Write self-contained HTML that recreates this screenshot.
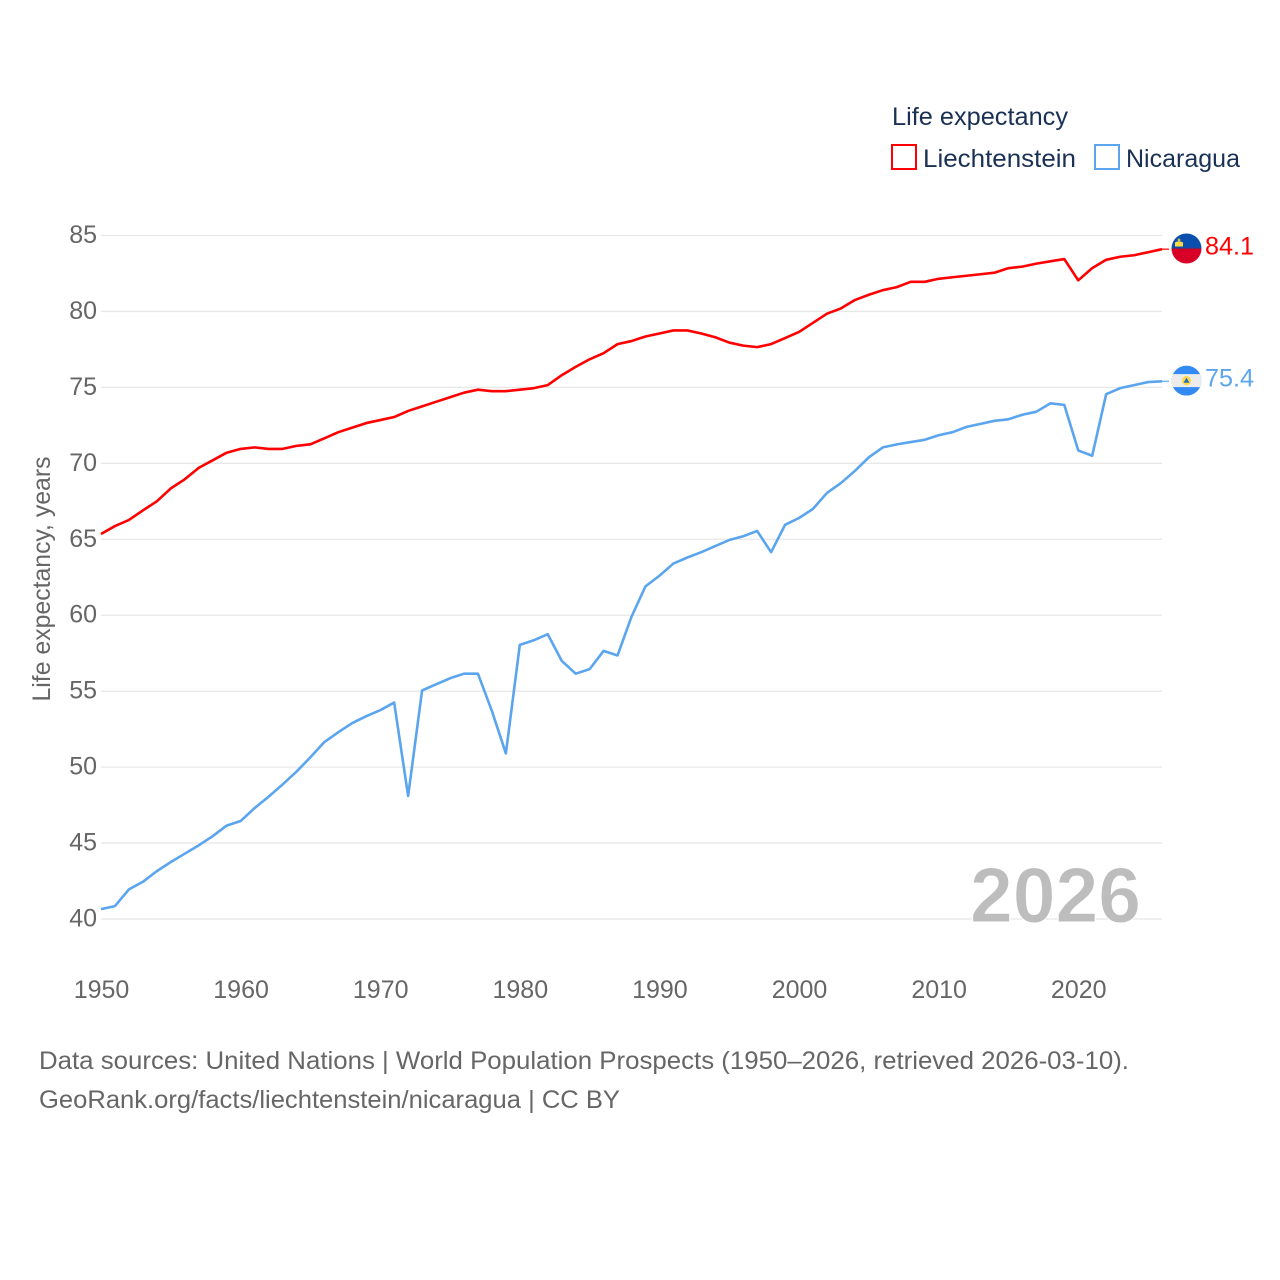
<!DOCTYPE html>
<html lang="en">
<head>
<meta charset="utf-8">
<title>Life expectancy: Liechtenstein and Nicaragua</title>
<style>
html,body{margin:0;padding:0;background:#fff}
svg{display:block}
text{font-family:"Liberation Sans",sans-serif}
</style>
</head>
<body>
<svg id="chart" xmlns="http://www.w3.org/2000/svg" width="1280" height="1280" viewBox="0 0 1280 1280">
  <defs>
    <clipPath id="flag-clip"><circle cx="0" cy="0" r="15"></circle></clipPath>
  </defs>
  <rect width="1280" height="1280" fill="#fff"></rect>
  <g id="grid"></g>
  <g id="y-ticks"></g>
  <g id="x-ticks"></g>
  <text transform="translate(50,579) rotate(-90)" text-anchor="middle" font-size="25" fill="#666" textLength="245" lengthAdjust="spacingAndGlyphs">Life expectancy, years</text>

  <text x="970" y="922" font-size="78" font-weight="700" fill="#bdbdbd" stroke="#fff" stroke-width="1" textLength="171" lengthAdjust="spacingAndGlyphs">2026</text>

  <g id="series"></g>

  <g id="flag-li">
    <g clip-path="url(#flag-clip)">
      <rect x="-15" y="-15" width="30" height="15" fill="#0b4fae"></rect>
      <rect x="-15" y="0" width="30" height="15" fill="#d80027"></rect>
      <rect x="-15" y="-0.6" width="30" height="1.2" fill="#6b2a5e"></rect>
      <path d="M-11.5 -2 L-3.5 -2 L-3.5 -6 L-5.5 -7 L-6.8 -6.6 L-6.8 -8 L-6 -8 L-6 -9 L-7 -9 L-7 -10 L-8 -10 L-8 -9 L-9 -9 L-9 -8 L-8.2 -8 L-8.2 -6.6 L-9.5 -7 L-11.5 -6 Z" fill="#ffda44"></path>
    </g>
  </g>
  <g id="flag-ni">
    <g clip-path="url(#flag-clip)">
      <rect x="-15" y="-15" width="30" height="30" fill="#338af3"></rect>
      <rect x="-15" y="-6.5" width="30" height="13" fill="#ececec"></rect>
      <circle cx="0" cy="0" r="4.6" fill="#ffda44"></circle>
      <path d="M-3 2.2 L0 -3 L3 2.2 Z" fill="#1f6fc4"></path>
    </g>
  </g>
  <text id="label-li" x="1205" font-size="25" fill="#ff0000" textLength="49" lengthAdjust="spacingAndGlyphs"></text>
  <text id="label-ni" x="1205" font-size="25" fill="#5aa5ee" textLength="49" lengthAdjust="spacingAndGlyphs"></text>

  <g>
    <text x="892" y="125" font-size="25" fill="#1a3155" textLength="176" lengthAdjust="spacingAndGlyphs">Life expectancy</text>
    <g>
      <rect x="892" y="145" width="24" height="24" fill="#fff" stroke="#ff0000" stroke-width="2"></rect>
      <text x="923" y="167" font-size="25" fill="#1a3155" textLength="153" lengthAdjust="spacingAndGlyphs">Liechtenstein</text>
    </g>
    <g>
      <rect x="1095" y="145" width="24" height="24" fill="#fff" stroke="#5aa5ee" stroke-width="2"></rect>
      <text x="1126" y="167" font-size="25" fill="#1a3155" textLength="114" lengthAdjust="spacingAndGlyphs">Nicaragua</text>
    </g>
  </g>

  <g>
    <text x="39" y="1069" font-size="25" fill="#666" textLength="1090" lengthAdjust="spacingAndGlyphs">Data sources: United Nations | World Population Prospects (1950–2026, retrieved 2026-03-10).</text>
    <text x="39" y="1108" font-size="25" fill="#666" textLength="581" lengthAdjust="spacingAndGlyphs">GeoRank.org/facts/liechtenstein/nicaragua | CC BY</text>
  </g>
</svg>
<script>
const startYear = 1950;
const yTickValues = [40, 45, 50, 55, 60, 65, 70, 75, 80, 85];
const xTickValues = [1950, 1960, 1970, 1980, 1990, 2000, 2010, 2020];
const liechtensteinValues = [
  65.35,65.87,66.27,66.9,67.5,68.35,68.95,69.7,70.2,70.7,
  70.95,71.05,70.95,70.95,71.15,71.25,71.65,72.05,72.35,72.65,
  72.85,73.05,73.45,73.75,74.05,74.35,74.65,74.85,74.75,74.75,
  74.85,74.95,75.15,75.8,76.35,76.85,77.25,77.85,78.05,78.35,
  78.55,78.75,78.75,78.55,78.3,77.95,77.75,77.65,77.85,78.25,
  78.65,79.25,79.85,80.2,80.75,81.1,81.4,81.6,81.95,81.95,
  82.15,82.25,82.35,82.45,82.55,82.85,82.95,83.15,83.3,83.45,
  82.05,82.85,83.4,83.6,83.7,83.9,84.1
];
const nicaraguaValues = [
  40.65,40.85,41.95,42.45,43.15,43.75,44.3,44.85,45.45,46.15,
  46.45,47.3,48.05,48.85,49.7,50.65,51.65,52.3,52.9,53.35,
  53.75,54.25,48.1,55.05,55.45,55.85,56.15,56.15,53.7,50.9,
  58.05,58.35,58.75,57,56.15,56.45,57.65,57.35,59.9,61.9,
  62.6,63.4,63.8,64.15,64.55,64.95,65.2,65.55,64.15,65.95,
  66.4,67,68.05,68.7,69.5,70.4,71.05,71.25,71.4,71.55,
  71.85,72.05,72.4,72.6,72.8,72.9,73.2,73.4,73.95,73.85,
  70.85,70.5,74.55,74.95,75.15,75.35,75.4
];
const liechtensteinLabel = '84.1';
const nicaraguaLabel = '75.4';

const SVG_NS = 'http://www.w3.org/2000/svg';
const plotLeft = 101, plotRight = 1162, yAt40 = 919, yAt85 = 235.5, lastYear = 2026;
function xScale(year) {
  return plotLeft + (year - startYear) * (plotRight - plotLeft) / (lastYear - startYear);
}
function yScale(v) {
  return yAt40 + (v - 40) * (yAt85 - yAt40) / 45;
}
function make(tag, attrs, parent) {
  const el = document.createElementNS(SVG_NS, tag);
  for (const k in attrs) el.setAttribute(k, attrs[k]);
  parent.appendChild(el);
  return el;
}

const gridG = document.getElementById('grid');
const yG = document.getElementById('y-ticks');
yTickValues.forEach(function (v) {
  const line = make('line', {x1: plotLeft, x2: plotRight, y1: yScale(v), y2: yScale(v), stroke: '#e8e8e8', 'stroke-width': 1.3}, gridG);
  
  
  const t = make('text', {x: 97, y: yScale(v) + 7.5, 'text-anchor': 'end', 'font-size': 25, fill: '#666'}, yG);
  
  
  t.textContent = String(v);
});

const xG = document.getElementById('x-ticks');
xTickValues.forEach(function (yr) {
  const t = make('text', {x: xScale(yr) + 0.5, y: 998, 'text-anchor': 'middle', 'font-size': 25, fill: '#666'}, xG);
  
  
  t.textContent = String(yr);
});

function linePoints(values) {
  return values.map(function (v, i) {
    return xScale(startYear + i).toFixed(2) + ',' + yScale(v).toFixed(2);
  }).join(' ');
}
const seriesG = document.getElementById('series');
const nicaraguaLine = make('polyline', {points: linePoints(nicaraguaValues), fill: 'none', stroke: '#5aa5ee', 'stroke-width': 2.6, 'stroke-linejoin': 'round'}, seriesG);


const liechtensteinLine = make('polyline', {points: linePoints(liechtensteinValues), fill: 'none', stroke: '#ff0000', 'stroke-width': 2.6, 'stroke-linejoin': 'round'}, seriesG);



function placeEnd(values, color, flagId, labelId, labelText, connectorName) {
  const y = yScale(values[values.length - 1]);
  const c = make('line', {x1: plotRight, x2: 1169, y1: y, y2: y, stroke: color, 'stroke-width': 1.5, opacity: 0.8}, seriesG);
  
  
  document.getElementById(flagId).setAttribute('transform', 'translate(1186.5,' + (y - 0.7).toFixed(2) + ')');
  const lab = document.getElementById(labelId);
  lab.setAttribute('y', (y + 5.3).toFixed(2));
  lab.textContent = labelText;
}
placeEnd(liechtensteinValues, '#ff0000', 'flag-li', 'label-li', liechtensteinLabel, 'liechtenstein-connector');
placeEnd(nicaraguaValues, '#5aa5ee', 'flag-ni', 'label-ni', nicaraguaLabel, 'nicaragua-connector');
</script>
</body>
</html>
